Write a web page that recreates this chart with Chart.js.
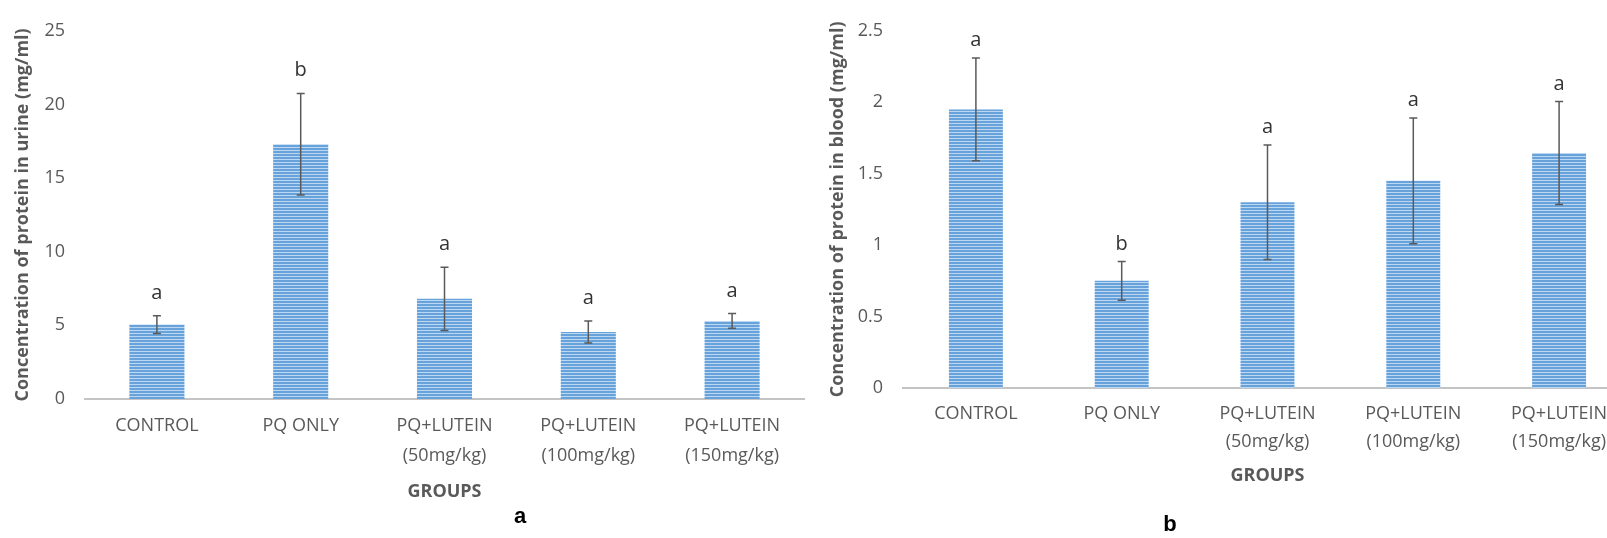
<!DOCTYPE html>
<html>
<head>
<meta charset="utf-8">
<script src="https://cdn.jsdelivr.net/npm/chart.js@4.4.0/dist/chart.umd.min.js"></script>
<style>
  html, body { margin: 0; padding: 0; background: #fff; overflow: hidden; width: 1607px; height: 538px; }
  canvas { position: absolute; top: 0; }
  #urine { left: 0; }
  #blood { left: 780px; }
  .panel { position: absolute; transform: translate(-50%, -50%); font: bold 22px "Liberation Sans", Arial, sans-serif; color: #000; line-height: 22px; }
</style>
</head>
<body>
<canvas id="urine" width="820" height="538"></canvas>
<canvas id="blood" width="860" height="538"></canvas>
<div class="panel" style="left:520px; top:516px;">a</div>
<div class="panel" style="left:1170px; top:524px;">b</div>

<script>
// Treatment groups (multi-line axis labels)
const groups = [
  ['CONTROL'],
  ['PQ ONLY'],
  ['PQ+LUTEIN', '(50mg/kg)'],
  ['PQ+LUTEIN', '(100mg/kg)'],
  ['PQ+LUTEIN', '(150mg/kg)']
];

// Urine protein (mg/ml): mean, standard deviation, significance letters
const urineMean = [5.05, 17.3, 6.8, 4.55, 5.3];
const urineSD = [0.6, 3.45, 2.15, 0.75, 0.5];
const urineLetters = ['a', 'b', 'a', 'a', 'a'];

// Blood protein (mg/ml): mean, standard deviation, significance letters
const bloodMean = [1.95, 0.75, 1.3, 1.45, 1.645];
const bloodSD = [0.36, 0.135, 0.4, 0.44, 0.36];
const bloodLetters = ['a', 'b', 'a', 'a', 'a'];

// Axis ranges
const urineAxis = { min: 0, max: 25, step: 5 };
const bloodAxis = { min: 0, max: 2.5, step: 0.5 };

const FONT = '"Open Sans", "Liberation Sans", sans-serif';
const GREY = '#595959';

// Horizontal striped fill for the bars
function stripes() {
  const c = document.createElement('canvas');
  c.width = 4; c.height = 3;
  const g = c.getContext('2d');
  g.fillStyle = '#67a2db';
  g.fillRect(0, 0, 4, 3);
  g.fillStyle = '#bcd7f2';
  g.fillRect(0, 0, 4, 1);
  return g.createPattern(c, 'repeat');
}

// Draws ±SD whiskers and the significance letter above each bar
const errorBars = {
  id: 'errorBars',
  afterDatasetsDraw(chart, args, opts) {
    const { ctx } = chart;
    const yScale = chart.scales.y;
    const meta = chart.getDatasetMeta(0);
    ctx.save();
    meta.data.forEach((bar, i) => {
      const m = opts.mean[i], s = opts.sd[i];
      const top = yScale.getPixelForValue(m + s);
      const bot = yScale.getPixelForValue(m - s);
      ctx.strokeStyle = '#5a5a5a';
      ctx.lineWidth = 1.5;
      ctx.beginPath();
      ctx.moveTo(bar.x, top); ctx.lineTo(bar.x, bot);
      ctx.moveTo(bar.x - 4, top); ctx.lineTo(bar.x + 4, top);
      ctx.moveTo(bar.x - 4, bot); ctx.lineTo(bar.x + 4, bot);
      ctx.stroke();
      ctx.fillStyle = '#333333';
      ctx.font = '20px ' + FONT;
      ctx.textAlign = 'center';
      ctx.textBaseline = 'alphabetic';
      ctx.fillText(opts.letters[i], bar.x, top - opts.gap);
    });
    ctx.restore();
  }
};

function makeChart(id, cfg) {
  return new Chart(document.getElementById(id), {
    type: 'bar',
    plugins: [errorBars],
    data: {
      labels: groups,
      datasets: [{
        data: cfg.mean,
        backgroundColor: stripes(),
        borderWidth: 0,
        barPercentage: cfg.barPct,
        categoryPercentage: 1
      }]
    },
    options: {
      responsive: false,
      animation: false,
      layout: { padding: { left: 0, top: cfg.padTop, right: cfg.padRight, bottom: 0 } },
      plugins: {
        legend: { display: false },
        tooltip: { enabled: false },
        errorBars: { mean: cfg.mean, sd: cfg.sd, letters: cfg.letters, gap: cfg.gap }
      },
      scales: {
        x: {
          grid: { display: false, drawTicks: false },
          border: { display: true, color: '#c4c4c4', width: 2 },
          ticks: {
            color: GREY, padding: 12, maxRotation: 0, autoSkip: false,
            font: { family: FONT, size: 18, lineHeight: cfg.lineH }
          },
          title: {
            display: true, text: 'GROUPS', color: GREY,
            font: { family: FONT, size: 18, weight: 'bold' },
            padding: { top: 0, bottom: cfg.groupsPad }
          },
          afterFit(s) { s.height = cfg.xHeight; }
        },
        y: {
          min: cfg.axis.min, max: cfg.axis.max,
          grid: { display: false, drawTicks: false },
          border: { display: false },
          ticks: {
            stepSize: cfg.axis.step, color: GREY, padding: 20,
            font: { family: FONT, size: 18 },
            callback: (v) => String(Math.round(v * 10) / 10)
          },
          title: {
            display: true, text: cfg.yTitle, color: GREY,
            font: { family: FONT, size: 18, weight: 'bold' },
            padding: { top: cfg.yTitlePad, bottom: 0 }
          },
          afterFit(s) { s.width = cfg.yWidth; }
        }
      }
    }
  });
}

makeChart('urine', {
  mean: urineMean, sd: urineSD, letters: urineLetters, axis: urineAxis,
  yTitle: 'Concentration of protein in urine (mg/ml)',
  padTop: 19, padRight: 16, xHeight: 139, yWidth: 85,
  barPct: 0.383, lineH: 1.65, gap: 17, groupsPad: 35, yTitlePad: 12
});

makeChart('blood', {
  mean: bloodMean, sd: bloodSD, letters: bloodLetters, axis: bloodAxis,
  yTitle: 'Concentration of protein in blood (mg/ml)',
  padTop: 27, padRight: 8, xHeight: 150, yWidth: 123,
  barPct: 0.37, lineH: 1.556, gap: 12, groupsPad: 51, yTitlePad: 47
});
</script>
</body>
</html>
